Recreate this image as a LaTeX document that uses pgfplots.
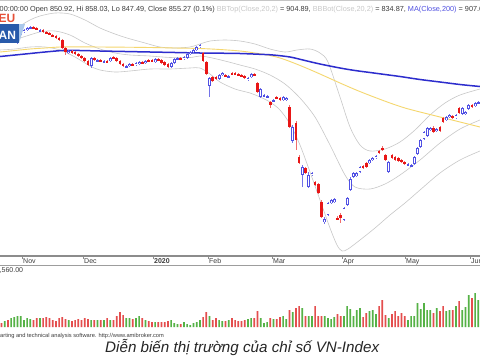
\documentclass[border=0pt]{standalone}
\usepackage{pgfplots}
\pgfplotsset{compat=1.18}
\usepackage{pgfplotstable}
\usepackage{fontspec}
\setmainfont{Liberation Sans}

\definecolor{upblue}{RGB}{80,80,228}
\definecolor{upwick}{RGB}{115,115,232}
\definecolor{dnred}{RGB}{232,22,22}
\definecolor{dnwick}{RGB}{240,110,110}
\definecolor{maline}{RGB}{45,45,205}
\definecolor{yline}{RGB}{245,215,110}
\definecolor{bandgray}{RGB}{200,200,200}
\definecolor{volgreen}{RGB}{85,178,70}
\definecolor{volred}{RGB}{228,78,78}
\definecolor{hdr}{RGB}{60,60,60}
\definecolor{hdrlight}{RGB}{200,200,200}
\definecolor{hdrblue}{RGB}{80,80,225}
\definecolor{stripgray}{RGB}{140,140,140}
\definecolor{logoblue}{RGB}{40,90,170}
\definecolor{logolight}{RGB}{170,200,235}
\definecolor{logored}{RGB}{230,80,55}

% candles: x, open, high, low, close (vertical position on the chart, smaller = higher), volume
\pgfplotstableread{
x o h l c v
4.7 42 41 43 41 6
11.1 42 40 43 41 9
14.3 42 40 43 40 10
17.5 43 34 44 35 11
20.7 35 31 36 32 11
23.9 32 29 33 30 7
27.1 30 27 31 28 9
30.3 28 26 29 27 8
39.9 31 29 32 30 9
68.7 53 50 54 51 7
91.1 66 57 68 58 7
97.5 61 59 62 60 7
103.9 62 60 63 61 7
110.3 61 57 62 58 7
126.3 67 65 68 66 9
129.5 66 63 67 64 9
135.9 65 62 66 63 9
139.1 64 61 65 62 11
145.5 63 60 64 61 7
155.1 62 58 63 59 5
171.1 67 62 68 63 7
174.3 63 58 64 59 4
177.5 59 57 60 58 3
183.9 59 56 60 57 5
187.1 58 53 59 54 3
190.3 54 51 55 52 2
193.5 52 49 53 50 4
196.7 50 46 51 47 5
199.9 47 44 48 45 7
209.5 86 77 97 78 11
219.1 79 74 80 75 7
222.3 75 72 76 73 6
228.7 77 75 78 76 7
247.9 80 77 81 78 8
251.1 77 73 78 74 9
260.7 97 88 98 89 9
263.9 96 94 97 95 4
267.1 97 95 98 96 5
273.5 101 99 102 100 8
283.1 100 96 101 97 11
286.3 100 97 101 98 8
292.7 141 125 143 127 15
302.3 175 165 187 167 19
308.7 187 172 188 175 11
311.9 175 172 176 173 11
324.7 222 217 224 219 11
327.9 215 202 216 203 9
331.1 203 199 204 200 8
334.3 202 198 203 199 10
343.9 220 207 221 208 11
347.1 205 197 206 198 21
350.3 190 177 191 179 18
353.5 177 172 178 173 11
356.7 176 172 177 173 17
359.9 172 166 173 167 19
369.5 163 159 164 160 16
372.7 160 157 161 158 17
375.9 158 155 159 156 13
388.7 172 161 173 162 9
407.9 165 163 166 164 7
411.1 166 164 167 165 11
414.3 164 156 165 157 11
417.5 154 147 155 148 24
420.7 147 139 148 140 18
423.9 139 131 140 132 24
427.1 136 127 137 128 17
430.3 130 127 131 128 17
436.7 131 128 132 129 19
446.3 120 116 121 117 16
449.5 117 114 118 115 17
455.9 118 114 119 115 21
462.3 114 107 115 108 17
465.5 114 111 115 112 20
468.7 109 104 110 105 32
475.1 106 102 107 103 34
478.3 103 101 104 102 27
}\upc

\pgfplotstableread{
x o h l c v
1.5 41 40 43 42 4
7.9 41 40 43 42 7
33.5 27 26 29 28 7
36.7 28 27 30 30 9
43.1 30 29 33 32 9
46.3 32 31 34 33 10
49.5 33 32 35 35 9
52.7 35 34 37 36 7
55.9 36 35 39 38 6
59.1 38 37 41 40 9
62.3 40 39 49 48 10
65.5 48 47 55 52 8
71.9 51 50 54 53 6
75.1 52 51 55 54 7
78.3 54 53 57 56 8
81.5 56 55 59 58 7
84.7 58 57 62 61 9
87.9 61 60 66 65 8
94.3 58 57 61 60 7
100.7 60 59 62 61 7
107.1 61 60 63 62 9
113.5 57 56 59 58 7
116.7 58 57 62 61 11
119.9 61 60 65 64 15
123.1 64 63 67 66 12
132.7 64 63 66 65 8
142.3 62 61 64 63 9
148.7 60 59 62 61 6
151.9 60 59 62 61 5
158.3 59 58 61 60 5
161.5 60 59 64 63 5
164.7 62 61 66 65 5
167.9 64 63 68 67 6
180.7 58 57 60 59 3
203.1 53 52 62 61 10
206.3 62 61 75 74 15
212.7 77 76 82 81 7
215.9 77 76 80 79 9
225.5 75 74 77 76 6
231.9 73 72 75 74 9
235.1 73 72 75 74.5 7
238.3 74 73 76 75 6
241.5 75 74 77 76.5 6
244.7 76.5 75 79 78 7
254.3 74 73 76 75 9
257.5 83 82 93 92 16
270.3 102 101 108 105 9
276.7 97 96 99 98 8
279.9 98 97 101 100 10
289.5 107 105 128 127 17
295.9 123 121 150 140 19
299.1 157 155 164 163 21
305.5 168 167 174 173 11
315.1 182 181 186 185 21
318.3 184 183 194 193 11
321.5 202 200 218 217 11
337.5 218 216 220 219 13
340.7 215 213 223 218 11
363.1 166 165 169 168 10
366.3 163 162 168 167 14
379.1 151 150 154 153 21
382.3 148 146 151 150 27
385.5 155 154 161 160 12
391.9 155 154 159 158 13
395.1 157 156 161 160 16
398.3 158 157 162 161 11
401.5 160 159 163 162 14
404.7 162 161 165 164 11
433.5 128 126 133 132 14
439.9 127 126 132 131 16
443.1 118 117 123 122 21
452.7 116 115 119 118 17
459.1 108 107 114 113 26
471.9 105 104 108 107 29
}\dnc

\begin{document}
\begin{tikzpicture}
\useasboundingbox (0,0) rectangle (480pt,360pt);
\clip (0,0) rectangle (480pt,360pt);
\fill[white] (0,0) rectangle (480pt,360pt);

% ---------- price panel ----------
\begin{axis}[at={(0pt,104pt)}, anchor=south west, scale only axis,
  width=480pt, height=256pt, xmin=0, xmax=480, ymin=0, ymax=256,
  y dir=reverse, hide axis, clip=true]
% Bollinger top
\addplot[bandgray, line width=0.6pt, smooth] coordinates {
(0,37) (10,33) (20,26) (30,20) (40,16) (55,13) (70,14) (85,20) (100,28) (115,34)
(127,38) (145,43) (160,47) (175,48) (190,47) (200,44) (210,41) (225,40) (240,41)
(255,44) (270,49) (285,52) (297,50) (310,49) (320,53) (328,62) (340,97) (350,127)
(360,145) (370,151) (385,149) (400,142) (415,130) (430,115) (445,103) (460,95) (480,89)};
% Bollinger bottom
\addplot[bandgray, line width=0.6pt, smooth] coordinates {
(0,50) (15,49) (30,47) (45,47) (60,50) (75,57) (90,66) (100,70) (115,72) (130,71)
(150,69) (170,69) (190,68) (200,68) (210,74) (220,82) (235,89) (250,93) (260,97)
(270,102) (280,110) (290,124) (300,145) (310,172) (320,200) (330,228) (337,245)
(342,251) (348,249) (360,240) (375,228) (390,215) (405,203) (420,190) (440,173)
(460,160) (480,151)};
% middle band
\addplot[bandgray, line width=0.6pt, smooth] coordinates {
(0,43) (20,38) (40,32) (55,31) (70,35) (85,43) (100,49) (115,53) (130,55) (150,56)
(170,57.5) (190,57.5) (200,56) (210,57.5) (225,61) (240,65) (255,69) (270,75)
(285,84) (300,98) (315,117) (330,145) (345,175) (355,187) (370,189) (385,184)
(400,175) (420,160) (440,143) (460,129) (480,120)};
% yellow moving average
\addplot[yline, line width=0.9pt, smooth] coordinates {
(0,52) (15,50.5) (30,49) (45,48) (60,47) (80,46.8) (100,47) (125,47.2) (150,47.5)
(175,48) (200,48.5) (220,49.5) (240,51) (255,53) (270,55.5) (280,58) (290,61.5)
(305,67.5) (320,74) (340,83) (355,89.5) (370,95.5) (390,103) (405,108) (420,112)
(440,117) (460,122) (480,127)};
% MA200
\addplot[maline, line width=1.5pt, smooth] coordinates {
(0,56.5) (15,55) (30,53.5) (45,52) (63,50.5) (80,50.5) (100,51) (125,51.5) (150,52)
(175,52.5) (200,53) (220,53.2) (240,53.5) (260,54.3) (273,55) (290,57) (305,60.5)
(320,64) (340,68) (355,70.5) (370,72.5) (385,74.5) (400,76.5) (420,79.5) (440,82)
(460,84.5) (480,86.5)};

% down candles: wicks and filled bodies
\addplot[draw=none, mark=none, error bars/.cd, y dir=both, y explicit, error mark=none,
  error bar style={line width=0.7pt, draw=dnwick}]
  table[x=x, y expr={(\thisrow{h}+\thisrow{l})/2}, y error expr={(\thisrow{l}-\thisrow{h})/2}] {\dnc};
\addplot[draw=none, mark=none, error bars/.cd, y dir=both, y explicit, error mark=none,
  error bar style={line width=2.6pt, draw=dnred}]
  table[x=x, y expr={(\thisrow{o}+\thisrow{c})/2}, y error expr={(\thisrow{c}-\thisrow{o})/2+0.2}] {\dnc};
% up candles: wicks and hollow bodies
\addplot[draw=none, mark=none, error bars/.cd, y dir=both, y explicit, error mark=none,
  error bar style={line width=0.7pt, draw=upwick}]
  table[x=x, y expr={(\thisrow{h}+\thisrow{l})/2}, y error expr={(\thisrow{l}-\thisrow{h})/2}] {\upc};
\addplot[draw=none, mark=none, error bars/.cd, y dir=both, y explicit, error mark=none,
  error bar style={line width=2.8pt, draw=upblue}]
  table[x=x, y expr={(\thisrow{o}+\thisrow{c})/2}, y error expr={(\thisrow{o}-\thisrow{c})/2+0.3}] {\upc};
\addplot[draw=none, mark=none, error bars/.cd, y dir=both, y explicit, error mark=none,
  error bar style={line width=1.2pt, draw=white}]
  table[x=x, y expr={(\thisrow{o}+\thisrow{c})/2}, y error expr={max((\thisrow{o}-\thisrow{c})/2-0.55,0)}] {\upc};
\end{axis}

% ---------- date strip ----------
\draw[stripgray, line width=1.3pt] (0,104pt) -- (480pt,104pt);
\draw[stripgray!85, line width=0.9pt] (0,95pt) -- (480pt,95pt);
\begin{axis}[at={(0pt,95pt)}, anchor=south west, scale only axis,
  width=480pt, height=9pt, xmin=0, xmax=480, ymin=0, ymax=1,
  axis line style={draw=none}, ytick=\empty,
  xtick={22,83,153,208,272,342,405,470},
  xticklabels={Nov,Dec,\textbf{2020},Feb,Mar,Apr,May,Jun},
  xtick pos=right, xticklabel pos=left, tick align=inside,
  major tick length=2.5pt, tick style={stripgray, line width=0.6pt},
  xticklabel style={anchor=base west, inner sep=0pt, xshift=1pt, yshift=1.7pt,
    font=\fontsize{7}{8}\selectfont, text=hdr}]
\addplot[draw=none] coordinates {(0,0) (480,1)};
\end{axis}

% ---------- volume panel ----------
\begin{axis}[at={(0pt,33pt)}, anchor=south west, scale only axis,
  width=480pt, height=62pt, xmin=0, xmax=480, ymin=0, ymax=62, hide axis]
\addplot[ybar, bar width=1.7pt, bar shift=0pt, fill=volgreen, draw=none] table[x=x, y=v] {\upc};
\addplot[ybar, bar width=1.7pt, bar shift=0pt, fill=volred, draw=none] table[x=x, y=v] {\dnc};
\end{axis}

% ---------- texts ----------
\draw[gray!45, line width=1pt] (0,359.5pt) -- (480pt,359.5pt);
\node[anchor=base west, inner sep=0pt, font=\fontsize{7.3}{8}\selectfont, text=hdr] at (-0.5pt,348.5pt)
 {00:00:00 Open 850.92, Hi 858.03, Lo 847.49, Close 855.27 (0.1\%) \textcolor{hdrlight}{BBTop(Close,20,2)} = 904.89, \textcolor{hdrlight}{BBBot(Close,20,2)} = 834.87, \textcolor{hdrblue}{MA(Close,200)} = 907.63};

% watermark logo
\fill[logoblue] (-1pt,317pt) rectangle (19pt,336pt);
\fill[logolight] (19pt,336pt) -- (25pt,336pt) -- (19pt,317pt) -- cycle;
\node[anchor=base west, inner sep=0pt, font=\fontsize{12}{12}\selectfont\bfseries, text=white] at (-1.5pt,320.5pt) {AN};
\node[anchor=base west, inner sep=0pt, font=\fontsize{12}{12}\selectfont\bfseries, text=logored] at (-1.5pt,338pt) {EU};

\node[anchor=base west, inner sep=0pt, font=\fontsize{7}{8}\selectfont, text=hdr] at (-0.5pt,87.5pt) {,560.00};
\node[anchor=base west, inner sep=0pt, font=\fontsize{5.7}{7}\selectfont, text=hdr] at (-6pt,23pt)
 {charting and technical analysis software. http://www.amibroker.com};
\node[anchor=base west, inner sep=0pt, font=\fontsize{15.2}{18}\selectfont\itshape, text=black!85] at (105pt,8pt)
 {Diễn biến thị trường của chỉ số VN-Index};
\end{tikzpicture}
\end{document}
